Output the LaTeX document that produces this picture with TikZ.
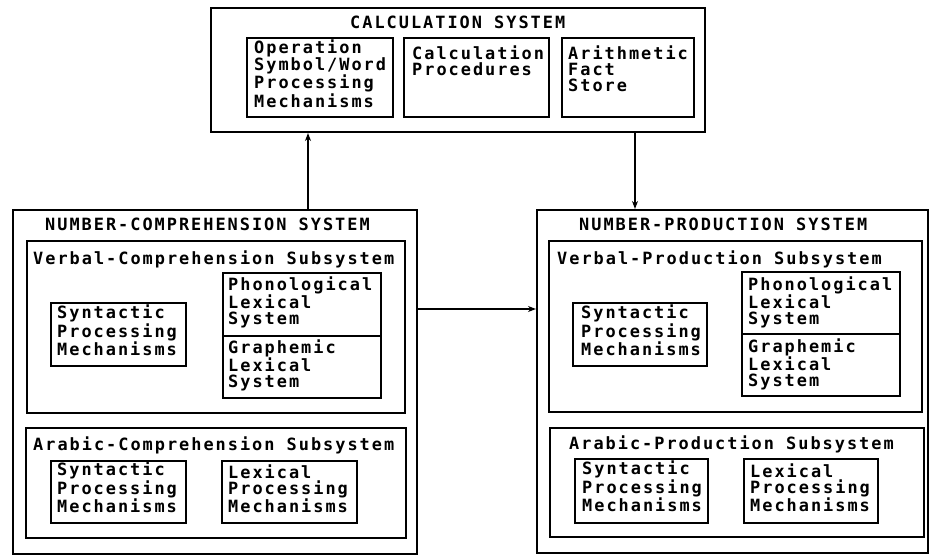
\documentclass[tikz,border=0pt]{standalone}
\usepackage{fontspec}
\newfontfamily\plotfont{DejaVu Sans Mono Bold}[LetterSpace=11.8]
\usetikzlibrary{arrows.meta,fit}
\begin{document}
\begin{tikzpicture}[x=1pt,y=-1pt,
  box/.style={draw, line width=1.6pt, inner sep=0pt},
  outerbox/.style={box, line width=2.1pt},
  txt/.style={font=\plotfont\fontsize{16.9}{15.7}\selectfont, align=left, inner sep=0pt, anchor=base west},
  arr/.style={line width=1.8pt, -{Stealth[length=8pt,width=6pt]}}]
\useasboundingbox (0,0) rectangle (930,556);
% calculation system
\node[outerbox, fit={(211,8) (705,132)}] (calc) {};
\node[box, fit={(247,38) (393,117)}] (c1) {};
\node[box, fit={(404,38) (549,117)}] (c2) {};
\node[box, fit={(562,38) (694,117)}] (c3) {};
% (base anchor = baseline of the last line)
\node[txt] (calct) at (350,29) {CALCULATION SYSTEM};
\node[txt] (c1t) at (254,107.1) {Operation\\Symbol/Word\\Processing\\Mechanisms};
\node[txt] (c2t) at (412,75.7) {Calculation\\Procedures};
\node[txt] (c3t) at (568,91.4) {Arithmetic\\Fact\\Store};
% comprehension system
\node[outerbox, fit={(13,210) (417,554)}] (comp) {};
\node[box, fit={(27,241) (405,413)}] (compV) {};
\node[box, fit={(51,303) (186,366)}] (compVsyn) {};
\node[box, fit={(223,273) (381,398)}] (compVlex) {};
\coordinate (compdiv) at (0,336);
\draw[line width=1.6pt] (compVlex.west |- compdiv) -- (compVlex.east |- compdiv);
\node[box, fit={(26,428) (406,538)}] (compA) {};
\node[box, fit={(51,461) (186,523)}] (compAsyn) {};
\node[box, fit={(222,461) (357,523)}] (compAlex) {};
\node[txt] (compt) at (45,231) {NUMBER-COMPREHENSION SYSTEM};
\node[txt] (compVt) at (33,265) {Verbal-Comprehension Subsystem};
\node[txt] (compVsynt) at (57,355.4) {Syntactic\\Processing\\Mechanisms};
\node[txt] (compVphont) at (228,324.4) {Phonological\\Lexical\\System};
\node[txt] (compVgrat) at (228,387.4) {Graphemic\\Lexical\\System};
\node[txt] (compAt) at (33,450) {Arabic-Comprehension Subsystem};
\node[txt] (compAsynt) at (57,512.4) {Syntactic\\Processing\\Mechanisms};
\node[txt] (compAlext) at (228,512.4) {Lexical\\Processing\\Mechanisms};
% production system
\node[outerbox, fit={(537,210) (928,553)}] (prod) {};
\node[box, fit={(549,241) (922,412)}] (prodV) {};
\node[box, fit={(573,303) (707,366)}] (prodVsyn) {};
\node[box, fit={(742,272) (900,396)}] (prodVlex) {};
\coordinate (proddiv) at (0,334);
\draw[line width=1.6pt] (prodVlex.west |- proddiv) -- (prodVlex.east |- proddiv);
\node[box, fit={(550,428) (924,537)}] (prodA) {};
\node[box, fit={(575,459) (708,523)}] (prodAsyn) {};
\node[box, fit={(744,459) (878,523)}] (prodAlex) {};
\node[txt] (prodt) at (579,231) {NUMBER-PRODUCTION SYSTEM};
\node[txt] (prodVt) at (557,265) {Verbal-Production Subsystem};
\node[txt] (prodVsynt) at (581,355.4) {Syntactic\\Processing\\Mechanisms};
\node[txt] (prodVphont) at (748,324.4) {Phonological\\Lexical\\System};
\node[txt] (prodVgrat) at (748,386.4) {Graphemic\\Lexical\\System};
\node[txt] (prodAt) at (569,449) {Arabic-Production Subsystem};
\node[txt] (prodAsynt) at (582,511.4) {Syntactic\\Processing\\Mechanisms};
\node[txt] (prodAlext) at (750,511.4) {Lexical\\Processing\\Mechanisms};
% connectors
\coordinate (upx) at (308,0);
\coordinate (downx) at (635,0);
\coordinate (midy) at (0,309);
\draw[arr] (comp.north -| upx) -- (calc.south -| upx);
\draw[arr] (calc.south -| downx) -- (prod.north -| downx);
\draw[arr] (comp.east |- midy) -- (prod.west |- midy);
\end{tikzpicture}
\end{document}
